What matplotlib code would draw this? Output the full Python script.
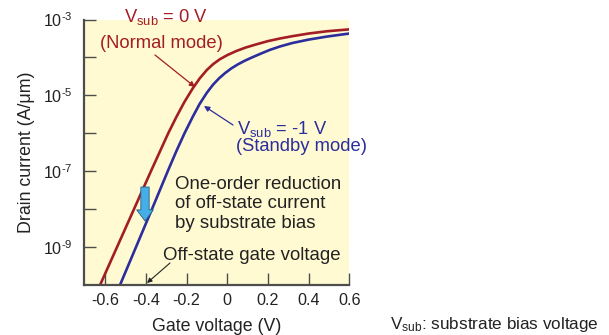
import matplotlib
matplotlib.use("Agg")
import matplotlib.pyplot as plt
import numpy as np

plt.rcParams['font.family'] = ['Liberation Sans', 'DejaVu Sans']
plt.rcParams['mathtext.fontset'] = 'custom'
plt.rcParams['mathtext.rm'] = 'Liberation Sans'
plt.rcParams['mathtext.it'] = 'Liberation Sans'
plt.rcParams['axes.unicode_minus'] = False

# Data
v_normal = [-0.625, -0.54, -0.46, -0.375, -0.33, -0.29, -0.25, -0.21, -0.17, -0.135,
            -0.10, -0.07, -0.037, 0.0, 0.045, 0.09, 0.14, 0.20, 0.26, 0.32, 0.40, 0.49, 0.60]
logi_normal = [-10.0, -8.98, -8.02, -7.00, -6.47, -6.00, -5.57, -5.17, -4.82, -4.55,
               -4.33, -4.18, -4.05, -3.94, -3.83, -3.74, -3.66, -3.57, -3.50, -3.44, -3.37, -3.31, -3.26]
v_standby = [-0.527, -0.45, -0.37, -0.29, -0.25, -0.21, -0.17, -0.135, -0.10, -0.07,
             -0.04, -0.01, 0.02, 0.05, 0.085, 0.126, 0.165, 0.21, 0.26, 0.32, 0.40, 0.49, 0.60]
logi_standby = [-10.0, -9.02, -8.0, -6.97, -6.47, -6.0, -5.57, -5.22, -4.93, -4.72,
                -4.55, -4.41, -4.29, -4.19, -4.09, -3.99, -3.90, -3.80, -3.71, -3.62, -3.53, -3.45, -3.37]
x_ticks = [-0.6, -0.4, -0.2, 0, 0.2, 0.4, 0.6]
x_tick_labels = ['-0.6', '-0.4', '-0.2', '0', '0.2', '0.4', '0.6']
y_major = [1e-9, 1e-7, 1e-5, 1e-3]
y_major_labels = ['10$^{\\text{-9}}$', '10$^{\\text{-7}}$', '10$^{\\text{-5}}$', '10$^{\\text{-3}}$']
y_minor = [1e-8, 1e-6, 1e-4]

RED = '#a31d24'
BLUE = '#2b2e9c'
SKY = '#45aee6'
DARK = '#222222'

W, H = 609, 335
fig = plt.figure(figsize=(W/100, H/100), dpi=100)
ax = fig.add_axes([84/W, 1-285/H, (349.3-84)/W, (285-19.5)/H])
ax.set_facecolor('#fffad2')

ax.plot(v_normal, np.power(10.0, logi_normal), color=RED, lw=1.9, solid_capstyle='butt',
        solid_joinstyle='round')
ax.plot(v_standby, np.power(10.0, logi_standby), color=BLUE, lw=1.9, solid_capstyle='butt',
        solid_joinstyle='round')

ax.set_yscale('log')
ax.set_xlim(-0.704, 0.6)
ax.set_ylim(1e-10, 1e-3)

ax.set_xticks(x_ticks)
ax.set_xticklabels(x_tick_labels)
ax.set_yticks(y_major)
ax.set_yticklabels(y_major_labels)
ax.set_yticks(y_minor, minor=True)
ax.yaxis.set_minor_formatter(matplotlib.ticker.NullFormatter())
ax.xaxis.set_minor_locator(matplotlib.ticker.NullLocator())

for s in ['top', 'right']:
    ax.spines[s].set_visible(False)
for s in ['left', 'bottom']:
    ax.spines[s].set_color('#4d4d4d')
    ax.spines[s].set_linewidth(1.6)

ax.tick_params(axis='both', which='both', direction='in', length=8.5, width=1.0,
               color='#4d4d4d', labelsize=11.6, labelcolor=DARK)
ax.tick_params(axis='x', pad=6)
ax.tick_params(axis='y', pad=8)

ax.set_ylabel('Drain current (A/\u03bcm)', fontsize=12.8, color=DARK, labelpad=6)


def fx(px):
    return px / W


def fy(py):
    return 1 - py / H


fig.text(fx(217), 0.0, 'Gate voltage (V)', fontsize=12.8, color=DARK, ha='center', va='bottom')

# Normal mode label
fig.text(fx(166), fy(17), 'V$_{\\mathregular{sub}}$ = 0 V', color=RED, fontsize=13.2,
         ha='center', va='center')
fig.text(fx(161), fy(43), '(Normal mode)', color=RED, fontsize=13.2, ha='center', va='center')
ax.annotate('', xy=(195, H-87), xycoords='figure pixels',
            xytext=(155, H-55), textcoords='figure pixels',
            arrowprops=dict(arrowstyle='-|>', color=RED, lw=0.9, mutation_scale=8,
                            shrinkA=0, shrinkB=0))

# Standby mode label
fig.text(fx(237), fy(129), 'V$_{\\mathregular{sub}}$ = -1 V', color=BLUE, fontsize=13.2,
         ha='left', va='center')
fig.text(fx(236), fy(146), '(Standby mode)', color=BLUE, fontsize=13.2, ha='left', va='center')
ax.annotate('', xy=(204, H-106), xycoords='figure pixels',
            xytext=(233, H-125), textcoords='figure pixels',
            arrowprops=dict(arrowstyle='-|>', color=BLUE, lw=0.9, mutation_scale=8,
                            shrinkA=0, shrinkB=0))

# Reduction text
fig.text(fx(175), fy(204), 'One-order reduction\nof off-state current\nby substrate bias',
         color=DARK, fontsize=13.4, ha='left', va='center', linespacing=1.2)
fig.text(fx(163), fy(256), 'Off-state gate voltage', color=DARK, fontsize=13.4,
         ha='left', va='center')
ax.annotate('', xy=(147, H-283), xycoords='figure pixels',
            xytext=(170, H-263), textcoords='figure pixels',
            arrowprops=dict(arrowstyle='-|>', color=DARK, lw=0.8, mutation_scale=7,
                            shrinkA=0, shrinkB=0))

# Big downward arrow
ax.annotate('', xy=(145, H-221), xycoords='figure pixels',
            xytext=(145, H-187), textcoords='figure pixels',
            arrowprops=dict(arrowstyle='simple,head_width=1.5,head_length=1.0,tail_width=0.75',
                            fc=SKY, ec='#2a5f86', lw=0.6, mutation_scale=8,
                            shrinkA=0, shrinkB=0))

fig.text(fx(390), 0.003, 'V$_{\\mathregular{sub}}$: substrate bias voltage', color=DARK,
         fontsize=12.3, ha='left', va='bottom')

fig.savefig('out.png', dpi=100, facecolor='white')
